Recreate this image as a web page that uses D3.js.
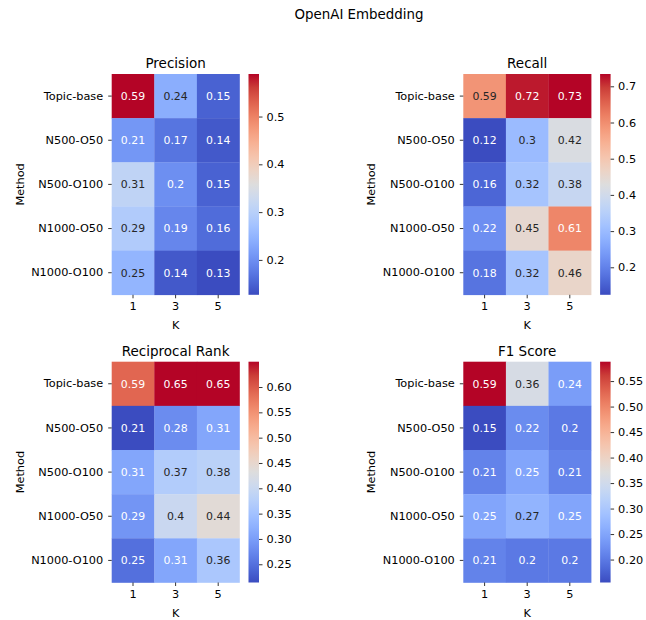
<!DOCTYPE html>
<html>
<head>
<meta charset="utf-8">
<script src="https://cdn.jsdelivr.net/npm/d3@7"></script>
<style>
  html, body { margin: 0; padding: 0; background: #fff; }
  svg text { font-family: "DejaVu Sans", sans-serif; }
</style>
</head>
<body>
<svg id="chart" width="646" height="620"></svg>
<script>
// Rows (methods) and columns (K) shared by every heatmap
const methods = ["Topic-base", "N500-O50", "N500-O100", "N1000-O50", "N1000-O100"];
const kValues = ["1", "3", "5"];

// Metric values, one row per method, one column per K
const precision = [
  [0.589, 0.24, 0.15],
  [0.21, 0.17, 0.14],
  [0.31, 0.20, 0.15],
  [0.29, 0.19, 0.16],
  [0.25, 0.14, 0.127]
];
const recall = [
  [0.59, 0.72, 0.734],
  [0.124, 0.30, 0.42],
  [0.16, 0.32, 0.38],
  [0.22, 0.45, 0.61],
  [0.18, 0.32, 0.46]
];
const reciprocalRank = [
  [0.59, 0.65, 0.65],
  [0.214, 0.28, 0.31],
  [0.31, 0.37, 0.38],
  [0.29, 0.40, 0.44],
  [0.25, 0.31, 0.36]
];
const f1Score = [
  [0.588, 0.36, 0.24],
  [0.155, 0.22, 0.20],
  [0.21, 0.25, 0.21],
  [0.25, 0.27, 0.25],
  [0.21, 0.20, 0.20]
];

// Colorbar tick labels per metric
const precisionTicks = [0.2, 0.3, 0.4, 0.5];
const recallTicks = [0.2, 0.3, 0.4, 0.5, 0.6, 0.7];
const rrTicks = [0.25, 0.30, 0.35, 0.40, 0.45, 0.50, 0.55, 0.60];
const f1Ticks = [0.20, 0.25, 0.30, 0.35, 0.40, 0.45, 0.50, 0.55];

const panels = [
  { title: "Precision", data: precision, ticks: precisionTicks, fmt: ".1f", col: 0, row: 0 },
  { title: "Recall", data: recall, ticks: recallTicks, fmt: ".1f", col: 1, row: 0 },
  { title: "Reciprocal Rank", data: reciprocalRank, ticks: rrTicks, fmt: ".2f", col: 0, row: 1 },
  { title: "F1 Score", data: f1Score, ticks: f1Ticks, fmt: ".2f", col: 1, row: 1 }
];

// Diverging "coolwarm" colormap anchors
const coolwarmStops = [
  [0.2298, 0.2987, 0.7537], [0.3039, 0.4065, 0.8450], [0.3830, 0.5094, 0.9174],
  [0.4667, 0.6046, 0.9682], [0.5530, 0.6889, 0.9954], [0.6392, 0.7596, 0.9982],
  [0.7222, 0.8140, 0.9766], [0.7987, 0.8498, 0.9317], [0.8654, 0.8654, 0.8654],
  [0.9241, 0.8274, 0.7745], [0.9589, 0.7698, 0.6780], [0.9700, 0.6943, 0.5794],
  [0.9580, 0.6028, 0.4818], [0.9239, 0.4973, 0.3880], [0.8692, 0.3783, 0.3003],
  [0.7956, 0.2413, 0.2205], [0.7057, 0.0156, 0.1502]
].map(c => d3.rgb(c[0] * 255, c[1] * 255, c[2] * 255).toString());
const coolwarm = d3.piecewise(d3.interpolateRgb, coolwarmStops);

// Relative luminance decides whether a cell label is dark or white
function luminance(col) {
  const c = d3.rgb(col);
  const lin = v => { v /= 255; return v <= 0.03928 ? v / 12.92 : Math.pow((v + 0.055) / 1.055, 2.4); };
  return 0.2126 * lin(c.r) + 0.7152 * lin(c.g) + 0.0722 * lin(c.b);
}

const svg = d3.select("#chart");
const defs = svg.append("defs");
const fmtCell = d3.format(".2~g");

// Figure title
svg.append("text")
  .attr("x", 359).attr("y", 19)
  .attr("text-anchor", "middle")
  .attr("font-size", 13.4)
  .attr("fill", "#000")
  .text("OpenAI Embedding");

const colX = [111.7, 463.3];
const rowY = [74, 361.7];
const heatW = 127.8, heatH = 220.8;

panels.forEach((p, pi) => {
  const x0 = colX[p.col], y0 = rowY[p.row];
  const g = svg.append("g").attr("transform", `translate(${x0},${y0})`);

  const flat = p.data.flat();
  const vmin = d3.min(flat), vmax = d3.max(flat);
  const color = d3.scaleSequential(coolwarm).domain([vmin, vmax]);

  const x = d3.scaleBand().domain(kValues).range([0, heatW]);
  const y = d3.scaleBand().domain(methods).range([0, heatH]);

  const cells = [];
  p.data.forEach((row, ri) => row.forEach((v, ci) => cells.push({ m: methods[ri], k: kValues[ci], v })));

  g.selectAll("rect.cell").data(cells).join("rect")
    .attr("class", "cell")
    .attr("x", d => x(d.k)).attr("y", d => y(d.m))
    .attr("width", x.bandwidth() + 0.3).attr("height", y.bandwidth() + 0.3)
    .attr("fill", d => color(d.v));

  g.selectAll("text.ann").data(cells).join("text")
    .attr("class", "ann")
    .attr("x", d => x(d.k) + x.bandwidth() / 2)
    .attr("y", d => y(d.m) + y.bandwidth() / 2)
    .attr("dy", "0.35em")
    .attr("text-anchor", "middle")
    .attr("font-size", 10.9)
    .attr("fill", d => luminance(color(d.v)) > 0.408 ? "#262626" : "#ffffff")
    .text(d => fmtCell(d.v));

  // Axes
  const yAxis = g.append("g").call(d3.axisLeft(y).tickSize(3.5).tickPadding(5));
  const xAxis = g.append("g").attr("transform", `translate(0,${heatH})`)
    .call(d3.axisBottom(x).tickSize(3.5).tickPadding(4));
  [xAxis, yAxis].forEach(a => {
    a.select(".domain").remove();
    a.selectAll(".tick line").attr("stroke", "#000").attr("stroke-width", 0.8);
    a.selectAll(".tick text").attr("font-size", 11.3).attr("fill", "#000")
      .attr("font-family", "DejaVu Sans, sans-serif");
  });

  // Axis titles
  g.append("text")
    .attr("x", heatW / 2).attr("y", heatH + 34.5)
    .attr("text-anchor", "middle").attr("font-size", 11.3).attr("fill", "#000")
    .text("K");
  g.append("text")
    .attr("transform", `translate(${-88},${heatH / 2}) rotate(-90)`)
    .attr("text-anchor", "middle").attr("font-size", 11.3).attr("fill", "#000")
    .text("Method");

  // Panel title
  g.append("text")
    .attr("x", heatW / 2).attr("y", -6)
    .attr("text-anchor", "middle").attr("font-size", 13.5).attr("fill", "#000")
    .text(p.title);

  // Colorbar
  const cbX = heatW + 9, cbW = 10.5;
  const gradId = "grad" + pi;
  const grad = defs.append("linearGradient").attr("id", gradId)
    .attr("x1", 0).attr("y1", 1).attr("x2", 0).attr("y2", 0);
  d3.range(0, 1.0001, 1 / 32).forEach(t => {
    grad.append("stop").attr("offset", t).attr("stop-color", coolwarm(t));
  });
  g.append("rect")
    .attr("x", cbX).attr("y", 0).attr("width", cbW).attr("height", heatH)
    .attr("fill", `url(#${gradId})`);
  const cbScale = d3.scaleLinear().domain([vmin, vmax]).range([heatH, 0]);
  const cbAxis = g.append("g").attr("transform", `translate(${cbX + cbW},0)`)
    .call(d3.axisRight(cbScale).tickValues(p.ticks).tickFormat(d3.format(p.fmt)).tickSize(3.5).tickPadding(4));
  cbAxis.select(".domain").remove();
  cbAxis.selectAll(".tick line").attr("stroke", "#000").attr("stroke-width", 0.8);
  cbAxis.selectAll(".tick text").attr("font-size", 11.3).attr("fill", "#000")
    .attr("font-family", "DejaVu Sans, sans-serif");
});
</script>
</body>
</html>
